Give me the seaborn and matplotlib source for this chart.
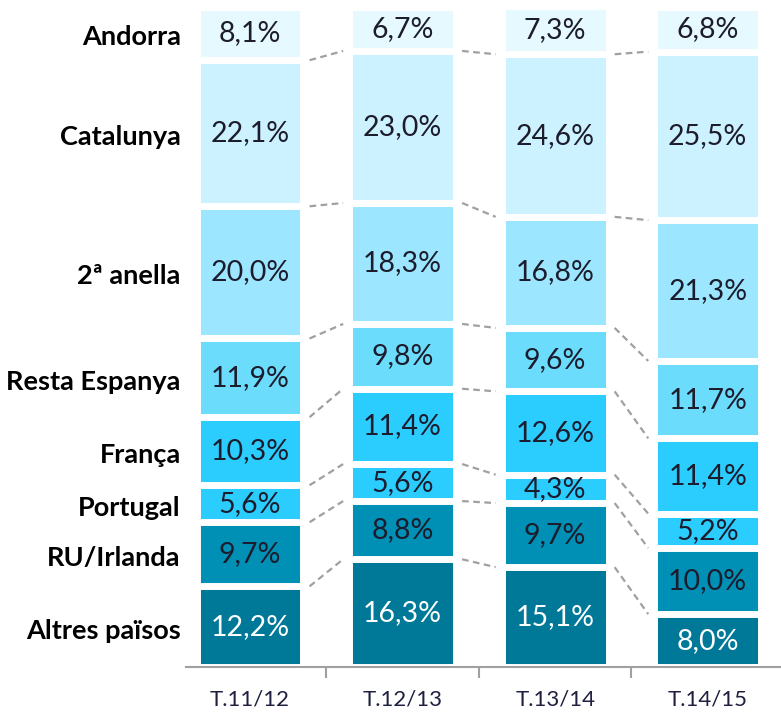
import matplotlib.pyplot as plt
import numpy as np
import pandas as pd
import seaborn as sns

# dades: percentatge de visitants per origen i temporada
temporades = ['T.11/12', 'T.12/13', 'T.13/14', 'T.14/15']
origens = ['Altres països', 'RU/Irlanda', 'Portugal', 'França',
           'Resta Espanya', '2ª anella', 'Catalunya', 'Andorra']  # de baix a dalt

altres = [12.2, 16.3, 15.1, 8.0]
ru_irlanda = [9.7, 8.8, 9.7, 10.0]
portugal = [5.6, 5.6, 4.3, 5.2]
franca = [10.3, 11.4, 12.6, 11.4]
resta_espanya = [11.9, 9.8, 9.6, 11.7]
segona_anella = [20.0, 18.3, 16.8, 21.3]
catalunya = [22.1, 23.0, 24.6, 25.5]
andorra = [8.1, 6.7, 7.3, 6.8]

colors = ['#007898', '#0090b5', '#2bcdff', '#2bcdff',
          '#6bdcfc', '#9ce7ff', '#cdf2ff', '#e6f9ff']
text_colors = ['white'] + ['#1c1c2c'] * 7

df = pd.DataFrame([altres, ru_irlanda, portugal, franca, resta_espanya,
                   segona_anella, catalunya, andorra],
                  index=origens, columns=temporades)
cum = df.cumsum()          # límit superior de cada tram
base = cum - df            # límit inferior

sns.set_theme(style='white')
plt.rcParams['font.family'] = ['Lato', 'DejaVu Sans']

fig = plt.figure(figsize=(7.81, 7.21), dpi=100)
ax = fig.add_axes([186 / 781, 54 / 721, 598 / 781, 661 / 721])

bar_w = 0.70
# barres acumulades: la més alta primer, després les més baixes per sobre
for k in range(len(origens) - 1, -1, -1):
    sns.barplot(x=temporades, y=cum.iloc[k].values, color=colors[k],
                saturation=1, width=bar_w, edgecolor='white', linewidth=5,
                ax=ax)

# etiquetes dels trams
for k, origen in enumerate(origens):
    for i, t in enumerate(temporades):
        y = base.loc[origen, t] + df.loc[origen, t] / 2
        ax.text(i, y, f"{df.loc[origen, t]:.1f}%".replace('.', ','),
                ha='center', va='center', fontsize=20.5,
                color=text_colors[k])

# línies discontínues entre barres
for k in range(len(origens) - 1):
    for i in range(len(temporades) - 1):
        ax.plot([i + bar_w / 2 + 0.04, i + 1 - bar_w / 2 - 0.04],
                [cum.iloc[k, i], cum.iloc[k, i + 1]],
                color='#a0a0a0', lw=1.6, ls=(0, (3, 2)))

# noms dels orígens a l'esquerra (centrats al primer tram)
for k, origen in enumerate(origens):
    y = base.iloc[k, 0] + df.iloc[k, 0] / 2 - 0.6
    ax.text(-0.455, y, origen, ha='right', va='center', fontsize=19.5,
            fontweight='bold', color='black', clip_on=False)

ax.set_xlim(-0.42, 3.5)
ax.set_ylim(0, 100)
ax.set_yticks([])
ax.set_xticks(range(len(temporades)))
ax.set_xticklabels(temporades, fontsize=16, color='#1f2040')
ax.tick_params(axis='x', length=0, pad=16)
ax.set_xticks([0.5, 1.5, 2.5], minor=True)
ax.tick_params(axis='x', which='minor', length=8, width=1.5,
               color='#a0a0a0', direction='out', bottom=True)
for s in ['top', 'right', 'left']:
    ax.spines[s].set_visible(False)
ax.spines['bottom'].set_color('#a0a0a0')
ax.spines['bottom'].set_linewidth(1.5)
ax.set_xlabel('')

fig.savefig('out.png', dpi=100)
